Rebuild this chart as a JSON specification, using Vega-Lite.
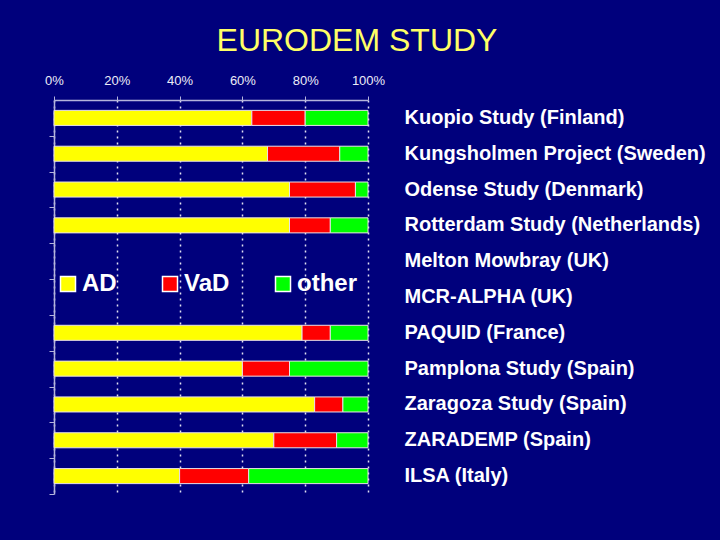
{
  "$schema": "https://vega.github.io/schema/vega-lite/v6.json",
  "width": 314,
  "height": 394,
  "autosize": {"type": "none"},
  "padding": {"left": 54, "top": 100, "right": 352, "bottom": 46},
  "background": "#00007c",
  "title": {
    "text": "EURODEM STUDY",
    "color": "#ffff66",
    "font": "Liberation Sans",
    "fontSize": 32,
    "fontWeight": "normal",
    "anchor": "middle",
    "frame": "group",
    "dx": 146,
    "dy": 2,
    "offset": 18
  },
  "data": {
    "values": [
      {"study": "Kuopio Study (Finland)", "type": "AD", "k": 1, "pct": 63},
      {"study": "Kuopio Study (Finland)", "type": "VaD", "k": 2, "pct": 17},
      {"study": "Kuopio Study (Finland)", "type": "other", "k": 3, "pct": 20},
      {"study": "Kungsholmen Project (Sweden)", "type": "AD", "k": 1, "pct": 68},
      {"study": "Kungsholmen Project (Sweden)", "type": "VaD", "k": 2, "pct": 23},
      {"study": "Kungsholmen Project (Sweden)", "type": "other", "k": 3, "pct": 9},
      {"study": "Odense Study (Denmark)", "type": "AD", "k": 1, "pct": 75},
      {"study": "Odense Study (Denmark)", "type": "VaD", "k": 2, "pct": 21},
      {"study": "Odense Study (Denmark)", "type": "other", "k": 3, "pct": 4},
      {"study": "Rotterdam Study (Netherlands)", "type": "AD", "k": 1, "pct": 75},
      {"study": "Rotterdam Study (Netherlands)", "type": "VaD", "k": 2, "pct": 13},
      {"study": "Rotterdam Study (Netherlands)", "type": "other", "k": 3, "pct": 12},
      {"study": "PAQUID (France)", "type": "AD", "k": 1, "pct": 79},
      {"study": "PAQUID (France)", "type": "VaD", "k": 2, "pct": 9},
      {"study": "PAQUID (France)", "type": "other", "k": 3, "pct": 12},
      {"study": "Pamplona Study (Spain)", "type": "AD", "k": 1, "pct": 60},
      {"study": "Pamplona Study (Spain)", "type": "VaD", "k": 2, "pct": 15},
      {"study": "Pamplona Study (Spain)", "type": "other", "k": 3, "pct": 25},
      {"study": "Zaragoza Study (Spain)", "type": "AD", "k": 1, "pct": 83},
      {"study": "Zaragoza Study (Spain)", "type": "VaD", "k": 2, "pct": 9},
      {"study": "Zaragoza Study (Spain)", "type": "other", "k": 3, "pct": 8},
      {"study": "ZARADEMP (Spain)", "type": "AD", "k": 1, "pct": 70},
      {"study": "ZARADEMP (Spain)", "type": "VaD", "k": 2, "pct": 20},
      {"study": "ZARADEMP (Spain)", "type": "other", "k": 3, "pct": 10},
      {"study": "ILSA (Italy)", "type": "AD", "k": 1, "pct": 40},
      {"study": "ILSA (Italy)", "type": "VaD", "k": 2, "pct": 22},
      {"study": "ILSA (Italy)", "type": "other", "k": 3, "pct": 38}
    ]
  },
  "layer": [
    {
      "mark": {"type": "bar", "stroke": "#e8e0e8", "strokeWidth": 1},
      "encoding": {
        "x": {
          "field": "pct",
          "type": "quantitative",
          "stack": "zero",
          "scale": {"domain": [0, 100], "nice": false},
          "axis": {
            "orient": "top",
            "values": [0, 20, 40, 60, 80, 100],
            "labelExpr": "datum.value + '%'",
            "labelFlush": false,
            "title": null,
            "labelFont": "Liberation Sans",
            "labelFontSize": 13,
            "labelColor": "#ececf8",
            "labelPadding": 9,
            "tickSize": 4,
            "tickColor": "#b4b4dc",
            "domainColor": "#b4b4dc",
            "domainWidth": 1.5,
            "grid": true,
            "gridColor": "#e0e0f0",
            "gridDash": [2, 4],
            "gridWidth": 1.5,
            "gridOpacity": 1
          }
        },
        "y": {
          "field": "study",
          "type": "nominal",
          "sort": null,
          "scale": {
            "domain": [
              "Kuopio Study (Finland)",
              "Kungsholmen Project (Sweden)",
              "Odense Study (Denmark)",
              "Rotterdam Study (Netherlands)",
              "Melton Mowbray (UK)",
              "MCR-ALPHA (UK)",
              "PAQUID (France)",
              "Pamplona Study (Spain)",
              "Zaragoza Study (Spain)",
              "ZARADEMP (Spain)",
              "ILSA (Italy)"
            ],
            "paddingInner": 0.58,
            "paddingOuter": 0.29
          },
          "axis": {
            "orient": "left",
            "labels": false,
            "title": null,
            "grid": false,
            "tickOffset": 17.9,
            "tickSize": 5,
            "tickColor": "#b4b4dc",
            "domainColor": "#b4b4dc",
            "domainWidth": 1.5
          }
        },
        "color": {
          "field": "type",
          "type": "nominal",
          "scale": {"domain": ["AD", "VaD", "other"], "range": ["#ffff00", "#ff0000", "#00ff00"]},
          "legend": {
            "orient": "none",
            "legendX": 2,
            "legendY": 172,
            "direction": "horizontal",
            "title": null,
            "symbolType": "square",
            "symbolSize": 225,
            "symbolStrokeColor": "#ffffff",
            "symbolStrokeWidth": 1.5,
            "symbolOpacity": 1,
            "labelFont": "Liberation Sans",
            "labelFontSize": 24,
            "labelFontWeight": "bold",
            "labelColor": "#ffffff",
            "labelOffset": 2,
            "columnPadding": 41
          }
        },
        "order": {"field": "k", "type": "quantitative"}
      }
    },
    {
      "mark": {"type": "bar", "opacity": 0},
      "encoding": {
        "x": {"field": "pct", "type": "quantitative", "scale": {"domain": [0, 100], "nice": false}, "axis": null},
        "y": {
          "field": "study",
          "type": "nominal",
          "sort": null,
          "axis": {
            "orient": "right",
            "title": null,
            "ticks": false,
            "domain": false,
            "grid": false,
            "labelPadding": 36,
            "labelFont": "Liberation Sans",
            "labelFontSize": 20,
            "labelFontWeight": "bold",
            "labelColor": "#ffffff",
            "labelLimit": 400
          }
        }
      }
    }
  ],
  "resolve": {"axis": {"y": "independent", "x": "independent"}},
  "config": {"view": {"stroke": null}}
}
